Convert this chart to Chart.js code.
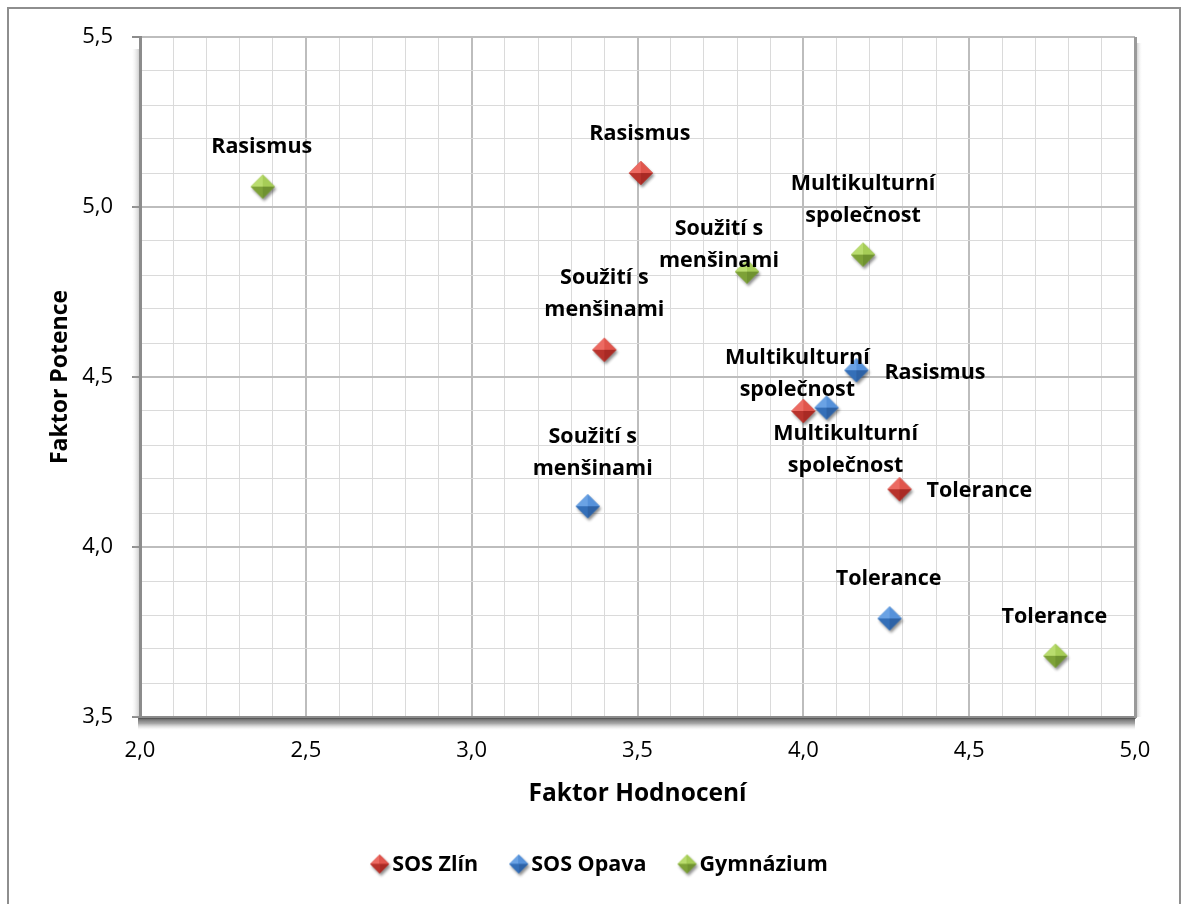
<!DOCTYPE html>
<html>
<head>
<meta charset="utf-8">
<script src="https://cdn.jsdelivr.net/npm/chart.js@4.4.0/dist/chart.umd.min.js"></script>
<style>
  html, body { margin: 0; padding: 0; background: #fff; overflow: hidden; }
  #frame { position: absolute; left: 7px; top: 7px; width: 1174px; height: 960px;
           border: 2px solid #8e8e8e; box-sizing: border-box; }
  #wrap { position: absolute; left: 0; top: 0; width: 1182px; height: 904px; }
</style>
</head>
<body>
<div id="frame"></div>
<div id="wrap"><canvas id="chart" width="1182" height="904"></canvas></div>
<script>
// Semantic differential results: evaluation factor (x) vs. potency factor (y)
const seriesNames = ['SOS Zlín', 'SOS Opava', 'Gymnázium'];
const concepts = ['Rasismus', 'Soužití s menšinami', 'Multikulturní společnost', 'Tolerance'];

const zlinHodnoceni  = [3.51, 3.40, 4.00, 4.29];
const zlinPotence    = [5.10, 4.58, 4.40, 4.17];
const opavaHodnoceni = [4.16, 3.35, 4.07, 4.26];
const opavaPotence   = [4.52, 4.12, 4.41, 3.79];
const gymHodnoceni   = [2.37, 3.83, 4.18, 4.76];
const gymPotence     = [5.06, 4.81, 4.86, 3.68];

const xTitle = 'Faktor Hodnocení';
const yTitle = 'Faktor Potence';

// label offsets from each marker in px: [dx, dy, align]
const zlinLabelPos  = [[-1, -39, 'center'], [0, -56, 'center'], [-6, -37, 'center'], [27, 2, 'left']];
const opavaLabelPos = [[28, 3, 'left'], [5, -53, 'center'], [19, 42, 'center'], [-1, -40, 'center']];
const gymLabelPos   = [[-1, -40, 'center'], [-28, -27, 'center'], [0, -55, 'center'], [-1, -39, 'center']];

const FONT = '"Open Sans", "Noto Sans", sans-serif';

// bevelled diamond marker with a soft drop shadow
function makeDiamond(c, r) {
  const pad = 6, size = 2 * (r + pad);
  const cv = document.createElement('canvas');
  cv.width = size; cv.height = size;
  const g = cv.getContext('2d');
  const cx = size / 2, cy = size / 2;
  const T = [cx, cy - r], R = [cx + r, cy], B = [cx, cy + r], L = [cx - r, cy], C = [cx, cy];
  g.save();
  g.shadowColor = 'rgba(0,0,0,0.45)';
  g.shadowBlur = 3; g.shadowOffsetX = 1.5; g.shadowOffsetY = 2.5;
  g.beginPath(); g.moveTo(...T); g.lineTo(...R); g.lineTo(...B); g.lineTo(...L); g.closePath();
  g.fillStyle = c.mid; g.fill();
  g.restore();
  const facet = (a, b, col) => {
    g.beginPath(); g.moveTo(...a); g.lineTo(...b); g.lineTo(...C); g.closePath();
    g.fillStyle = col; g.fill();
  };
  facet(L, T, c.tl);
  facet(T, R, c.tr);
  facet(R, B, c.br);
  facet(B, L, c.bl);
  return cv;
}

const palettes = [
  { tl: '#ec6a62', tr: '#e0554c', br: '#a92a24', bl: '#b8332c', mid: '#c43a32' },
  { tl: '#6aa2e4', tr: '#5591da', br: '#2d62a6', bl: '#346fb8', mid: '#3b79c4' },
  { tl: '#b9dc6e', tr: '#a6cd57', br: '#6f9230', bl: '#7da137', mid: '#8cb43f' }
];
const bigMarkers = palettes.map(p => makeDiamond(p, 12));
const smallMarkers = palettes.map(p => makeDiamond(p, 9.5));

const toPoints = (xs, ys) => xs.map((x, i) => ({ x: x, y: ys[i] }));
const isMajor = v => Math.abs(v * 2 - Math.round(v * 2)) < 1e-6;
const fmt = v => v.toFixed(1).replace('.', ',');

function wrapLabel(s) {
  if (s.length <= 12 || s.indexOf(' ') < 0) return [s];
  const k = s.lastIndexOf(' ');
  return [s.slice(0, k), s.slice(k + 1)];
}

// 3D-style shading around the plot area
const areaShadow = {
  id: 'areaShadow',
  beforeDatasetsDraw(chart) {
    const { ctx, chartArea: a } = chart;
    ctx.save();
    let gr = ctx.createLinearGradient(0, a.bottom, 0, a.bottom + 13);
    gr.addColorStop(0, 'rgba(70,70,70,0.95)');
    gr.addColorStop(0.5, 'rgba(110,110,110,0.6)');
    gr.addColorStop(1, 'rgba(200,200,200,0)');
    ctx.fillStyle = gr;
    ctx.fillRect(a.left - 2, a.bottom + 1, a.right - a.left + 2, 13);
    gr = ctx.createLinearGradient(a.left - 1, 0, a.left - 8, 0);
    gr.addColorStop(0, 'rgba(150,150,150,0.45)');
    gr.addColorStop(1, 'rgba(220,220,220,0)');
    ctx.fillStyle = gr;
    ctx.fillRect(a.left - 8, a.top + 12, 7, a.bottom - a.top - 12);
    ctx.fillStyle = '#9a9a9a';
    ctx.fillRect(a.right - 1, a.top, 3, a.bottom - a.top + 1);
    gr = ctx.createLinearGradient(a.right + 2, 0, a.right + 7, 0);
    gr.addColorStop(0, 'rgba(170,170,170,0.5)');
    gr.addColorStop(1, 'rgba(230,230,230,0)');
    ctx.fillStyle = gr;
    ctx.fillRect(a.right + 2, a.top + 6, 5, a.bottom - a.top - 6);
    ctx.restore();
  }
};

// concept names next to the markers
const pointLabels = {
  id: 'pointLabels',
  afterDatasetsDraw(chart) {
    const ctx = chart.ctx;
    ctx.save();
    ctx.fillStyle = '#000';
    ctx.font = 'bold 21.5px ' + FONT;
    ctx.textBaseline = 'middle';
    chart.data.datasets.forEach((ds, di) => {
      const meta = chart.getDatasetMeta(di);
      meta.data.forEach((el, i) => {
        const [dx, dy, align] = ds.labelPos[i];
        const lines = wrapLabel(ds.names[i]);
        const lh = 32;
        ctx.textAlign = align;
        lines.forEach((ln, k) => {
          const y = el.y + dy + (k - (lines.length - 1) / 2) * lh;
          ctx.fillText(ln, el.x + dx, y);
        });
      });
    });
    ctx.restore();
  }
};

// legend row under the axis title
const legendRow = {
  id: 'legendRow',
  afterDraw(chart, args, opts) {
    const ctx = chart.ctx;
    ctx.save();
    ctx.font = 'bold 21.5px ' + FONT;
    ctx.fillStyle = '#000';
    ctx.textBaseline = 'middle';
    ctx.textAlign = 'left';
    const items = chart.data.datasets.map((ds, i) => ({ text: ds.label, img: smallMarkers[i] }));
    const mw = 19, gapIcon = 3, gapItem = 31;
    const widths = items.map(it => mw + gapIcon + ctx.measureText(it.text).width);
    const total = widths.reduce((s, w) => s + w, 0) + gapItem * (items.length - 1);
    let x = opts.centerX - total / 2;
    const y = opts.y;
    items.forEach((it, i) => {
      ctx.drawImage(it.img, x + mw / 2 - it.img.width / 2, y - it.img.height / 2);
      ctx.fillText(it.text, x + mw + gapIcon, y + 1);
      x += widths[i] + gapItem;
    });
    ctx.restore();
  }
};

const datasetsFrom = [
  [zlinHodnoceni, zlinPotence, zlinLabelPos],
  [opavaHodnoceni, opavaPotence, opavaLabelPos],
  [gymHodnoceni, gymPotence, gymLabelPos]
];

new Chart(document.getElementById('chart'), {
  type: 'scatter',
  data: {
    datasets: datasetsFrom.map(([xs, ys, pos], i) => ({
      label: seriesNames[i],
      data: toPoints(xs, ys),
      names: concepts,
      labelPos: pos,
      pointStyle: bigMarkers[i],
      pointRadius: 12,
      pointHoverRadius: 12
    }))
  },
  options: {
    responsive: false,
    animation: false,
    events: [],
    layout: { padding: { left: 45, top: 37, right: 47, bottom: 94 } },
    plugins: {
      legend: { display: false },
      tooltip: { enabled: false },
      legendRow: { centerX: 599, y: 864 }
    },
    scales: {
      x: {
        type: 'linear', position: 'bottom', min: 2, max: 5,
        afterFit: s => { s.height = 93; },
        ticks: {
          stepSize: 0.1, autoSkip: false, maxRotation: 0, padding: 15,
          color: '#000', font: { family: FONT, size: 22 },
          callback: v => isMajor(v) ? fmt(v) : ''
        },
        grid: {
          color: c => isMajor(c.tick.value) ? '#bdbdbd' : '#dadada',
          lineWidth: c => isMajor(c.tick.value) ? 2 : 1,
          tickLength: 6, tickColor: 'rgba(0,0,0,0)'
        },
        border: { color: '#8c8c8c', width: 3 },
        title: {
          display: true, text: xTitle, color: '#000',
          font: { family: FONT, size: 24.5, weight: 'bold' }, padding: { top: 4, bottom: 1 }
        }
      },
      y: {
        type: 'linear', position: 'left', min: 3.5, max: 5.5,
        afterFit: s => { s.width = 95; },
        ticks: {
          stepSize: 0.1, autoSkip: false, padding: 19,
          color: '#000', font: { family: FONT, size: 22 },
          callback: v => isMajor(v) ? fmt(v) : ''
        },
        grid: {
          color: c => isMajor(c.tick.value) ? '#bdbdbd' : '#dadada',
          lineWidth: c => isMajor(c.tick.value) ? 2 : 1,
          tickLength: 8,
          tickColor: c => isMajor(c.tick.value) ? '#8c8c8c' : 'rgba(0,0,0,0)'
        },
        border: { color: '#8c8c8c', width: 3 },
        title: {
          display: true, text: yTitle, color: '#000',
          font: { family: FONT, size: 23, weight: 'bold' }, padding: { top: 2, bottom: 4 }
        }
      }
    }
  },
  plugins: [areaShadow, pointLabels, legendRow]
});
</script>
</body>
</html>
